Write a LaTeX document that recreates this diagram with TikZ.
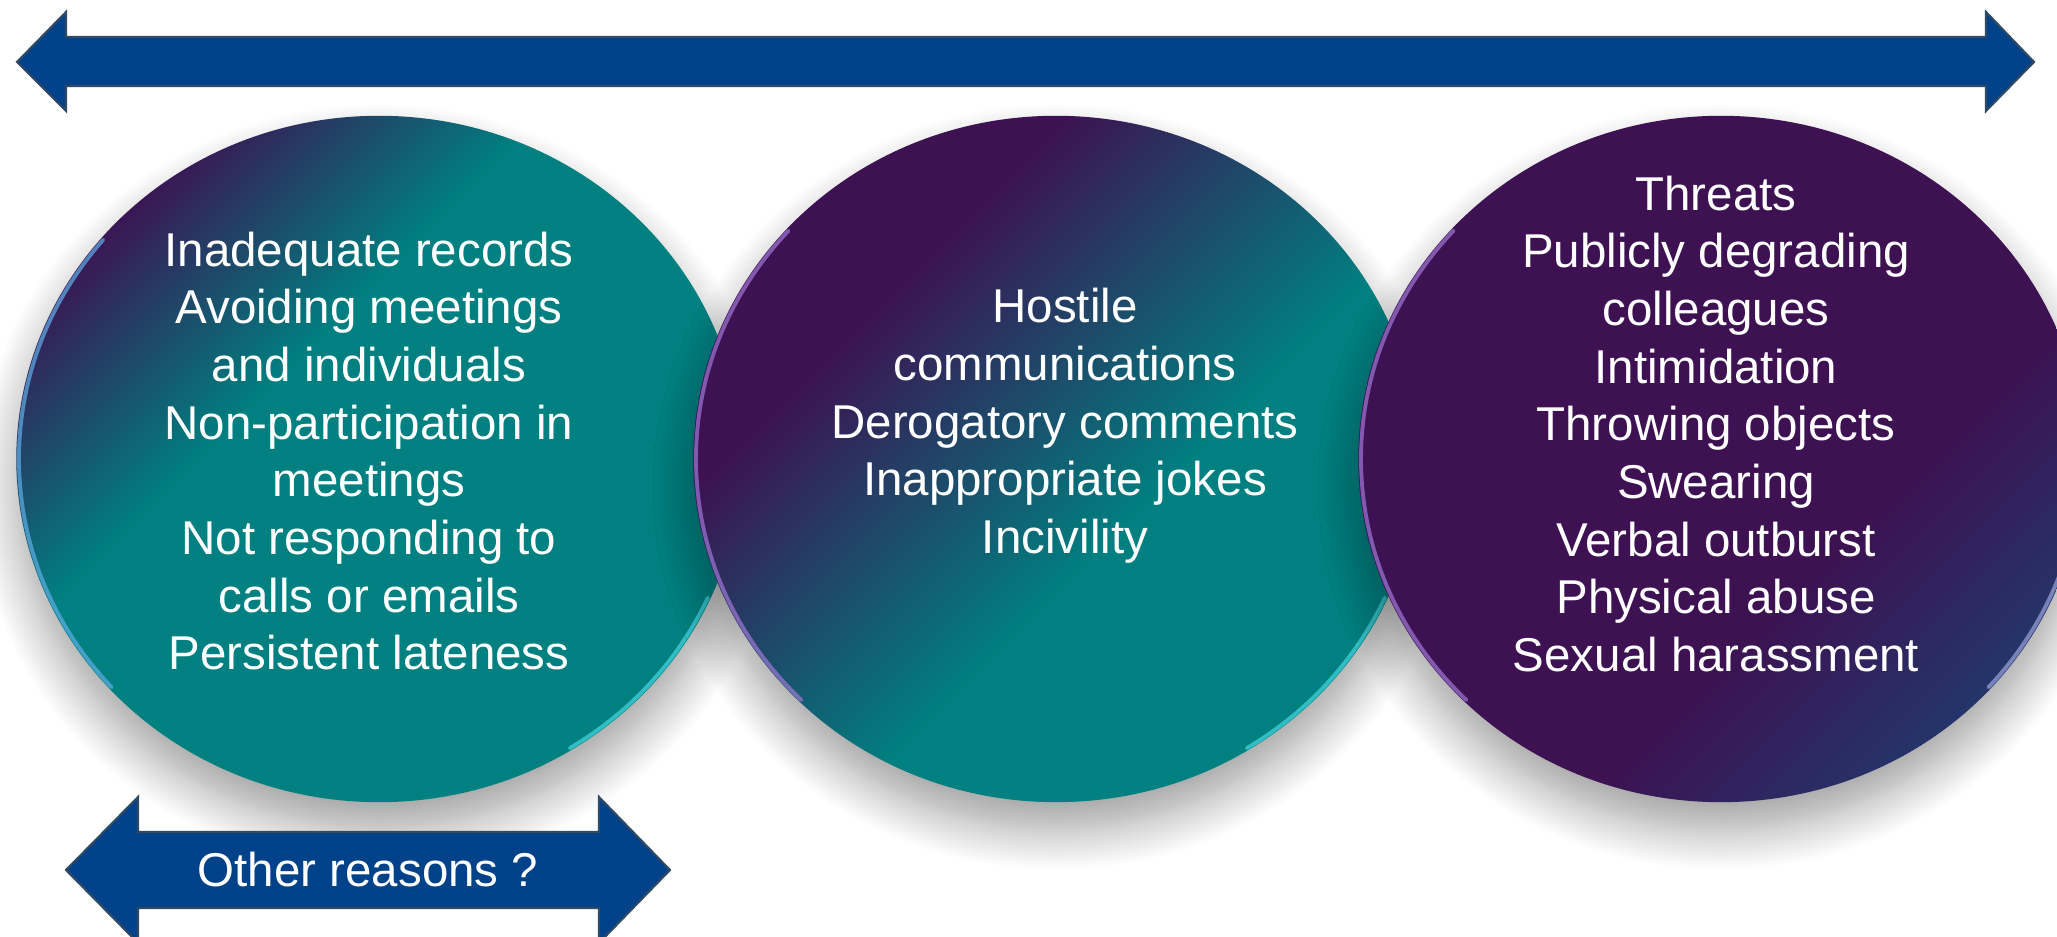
\documentclass[tikz,border=0pt]{standalone}
\usepackage{fontspec}
\setmainfont{Liberation Sans}
\usetikzlibrary{shapes.geometric,shadows.blur}

\definecolor{plum}{RGB}{61,17,82}
\definecolor{lagoon}{RGB}{0,128,128}
\definecolor{dusk}{RGB}{33,58,108}
\definecolor{barblue}{RGB}{0,66,137}
\definecolor{barline}{RGB}{47,75,99}
\definecolor{lilac}{RGB}{160,120,215}
\definecolor{aqua}{RGB}{70,215,225}

% diagonal fills, purple top left to teal / blue bottom right
\pgfdeclarehorizontalshading{discA}{100bp}{color(0bp)=(plum); color(24bp)=(plum); color(41bp)=(lagoon); color(100bp)=(lagoon)}
\pgfdeclarehorizontalshading{discB}{100bp}{color(0bp)=(plum); color(33bp)=(plum); color(57bp)=(lagoon); color(100bp)=(lagoon)}
\pgfdeclarehorizontalshading{discC}{100bp}{color(0bp)=(plum); color(60bp)=(plum); color(77bp)=(dusk); color(100bp)=(dusk)}

\tikzset{
    disc/.style={ellipse, minimum width=7.25cm, minimum height=6.86cm, inner sep=0pt,
        shading angle=-45,
        blur shadow={shadow xshift=0cm, shadow yshift=-0.28cm, shadow blur radius=0.4cm,
            shadow blur steps=24, shadow opacity=38}},
    disctext/.style={text=white, align=center, font=\fontsize{13.5}{16.4}\selectfont},
    bar/.style={fill=barblue, draw=barline, line width=0.6pt, line join=miter},
    rim/.style={line width=1.1pt, line cap=round, opacity=.7},
}

\begin{document}
\begin{tikzpicture}[x=0.01cm, y=0.01cm]
%\draw [help lines, step=100] (0,0) grid (2057,937);
    \useasboundingbox (0,0) rectangle (2057,937);

    % the three discs, each one lying over the one before
    \node [disc, shading=discA] (dA) at (379,478) {};
    \draw [rim, lilac!60!cyan] (dA.center) ++(140:360 and 341) arc [start angle=140, end angle=222, x radius=360, y radius=341];
    \draw [rim, aqua] (dA.center) ++(-58:360 and 341) arc [start angle=-58, end angle=-24, x radius=360, y radius=341];

    \node [disc, shading=discB] (dB) at (1056,478) {};
    \draw [rim, lilac] (dB.center) ++(138:360 and 341) arc [start angle=138, end angle=225, x radius=360, y radius=341];
    \draw [rim, aqua] (dB.center) ++(-58:360 and 341) arc [start angle=-58, end angle=-24, x radius=360, y radius=341];

    \node [disc, shading=discC] (dC) at (1721,478) {};
    \draw [rim, lilac] (dC.center) ++(138:360 and 341) arc [start angle=138, end angle=225, x radius=360, y radius=341];
    \draw [rim, cyan!30!blue!40!white] (dC.center) ++(-42:360 and 341) arc [start angle=-42, end angle=-8, x radius=360, y radius=341];

    \node [disctext] (txtA) at (369,486) {Inadequate records\\ Avoiding meetings\\ and individuals\\
        Non-participation in\\ meetings\\ Not responding to\\ calls or emails\\ Persistent lateness};
    \node [disctext] (txtB) at (1065,511) {Hostile\\ communications\\ Derogatory comments\\
        Inappropriate jokes\\ Incivility};
    \node [disctext] (txtC) at (1716,513) {Threats\\ Publicly degrading\\ colleagues\\ Intimidation\\
        Throwing objects\\ Swearing\\ Verbal outburst\\ Physical abuse\\ Sexual harassment};

    % scale arrow along the top
    \draw [bar] (17,875) -- (66,925) -- (66,900) -- (1986,900) -- (1986,925) -- (2034,875)
        -- (1986,826) -- (1986,851) -- (66,851) -- (66,826) -- cycle;

    % short arrow below the first disc
    \draw [bar] (66,67) -- (138,140) -- (138,105) -- (599,105) -- (599,140) -- (670,67)
        -- (599,-6) -- (599,29) -- (138,29) -- (138,-6) -- cycle;
    \node [disctext] (why) at (368,67) {Other reasons ?};
\end{tikzpicture}
\end{document}
